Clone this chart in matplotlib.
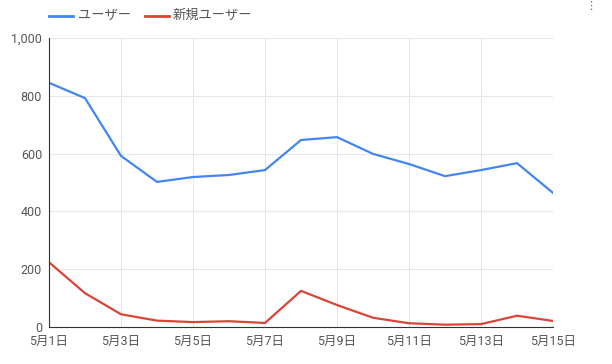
import matplotlib.pyplot as plt
from matplotlib.lines import Line2D

plt.rcParams['font.family'] = ['Roboto', 'Noto Sans CJK JP', 'DejaVu Sans']

days = list(range(1, 16))
users = [845, 792, 592, 502, 519, 526, 543, 647, 657, 599, 564, 522, 543, 567, 464]
new_users = [224, 117, 44, 22, 17, 20, 14, 125, 76, 32, 13, 8, 10, 39, 21]
series_names = ['ユーザー', '新規ユーザー']
tick_days = [1, 3, 5, 7, 9, 11, 13, 15]
tick_labels = [f'5月{d}日' for d in tick_days]

blue = '#4285f4'
red = '#db4437'
W, H = 612, 364

fig = plt.figure(figsize=(6.12, 3.64), dpi=100)
ax = fig.add_axes([49/W, 37/H, 504/W, 289/H])

ax.plot(days, users, color=blue, lw=1.6, solid_joinstyle='round')
ax.plot(days, new_users, color=red, lw=1.6, solid_joinstyle='round')

ax.set_xlim(1, 15)
ax.set_ylim(0, 1000)
ax.set_yticks([0, 200, 400, 600, 800, 1000])
ax.set_yticklabels(['0', '200', '400', '600', '800', '1,000'])
ax.set_xticks(tick_days)
ax.set_xticklabels(tick_labels)
ax.grid(True, color='#e6e6e6', lw=0.8)
ax.set_axisbelow(True)
ax.tick_params(length=0, labelsize=9, colors='#555555', pad=5)
ax.tick_params(axis='x', pad=6)
for s in ['top', 'right']:
    ax.spines[s].set_visible(False)
for s in ['left', 'bottom']:
    ax.spines[s].set_color('#333333')
    ax.spines[s].set_linewidth(0.8)

# legend drawn by hand to match the position
legend_x = [(49, 73, 78), (145, 169, 173)]
for (x0, x1, xt), name, col in zip(legend_x, series_names, [blue, red]):
    fig.add_artist(Line2D([x0/W, x1/W], [1 - 15.5/H, 1 - 15.5/H], color=col, lw=2,
                          transform=fig.transFigure))
    fig.text(xt/W, 1 - 15.5/H, name, ha='left', va='center', fontsize=9.5,
             color='#555555')

# menu icon in the corner
fig.text(591/W, 1 - 1/H, '⋮', ha='center', va='top', fontsize=8,
         color='#666666', family='DejaVu Sans')

fig.savefig('out.png', dpi=100)
